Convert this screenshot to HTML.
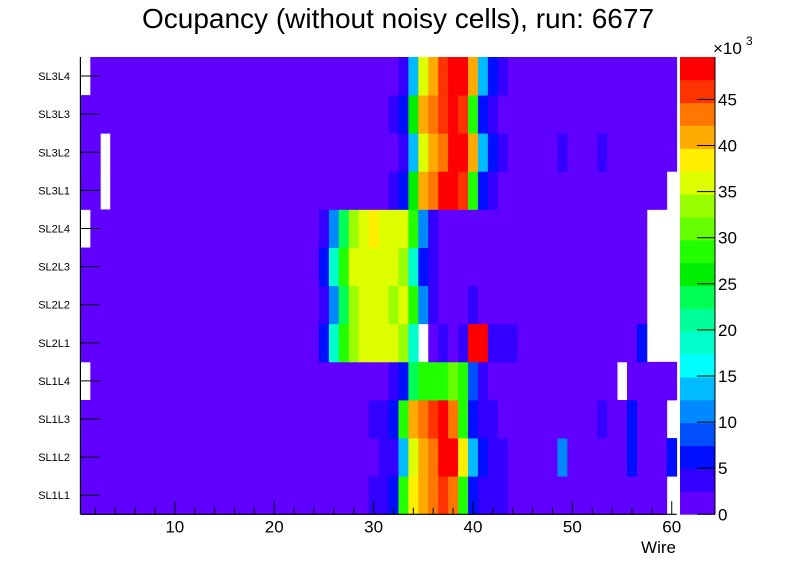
<!DOCTYPE html>
<html><head><meta charset="utf-8"><style>
html,body{margin:0;padding:0;background:#fff;}
svg{display:block;font-family:"Liberation Sans",sans-serif;}
</style></head><body>
<svg id="chart" width="796" height="572" viewBox="0 0 796 572">
<text x="398" y="28" text-anchor="middle" font-size="28">Ocupancy (without noisy cells), run: 6677</text>
<g id="cells"></g>
<g id="axes"></g>
<g id="cbar"></g>
</svg>
<script>
const layers = ["SL1L1","SL1L2","SL1L3","SL1L4","SL2L1","SL2L2","SL2L3","SL2L4","SL3L1","SL3L2","SL3L3","SL3L4"];
const xTicks = [10,20,30,40,50,60];
const zTicks = [0,5,10,15,20,25,30,35,40,45];
// occupancy in thousands, per layer, wires 1..60
const occSL1L1 = [1.2,1.2,1.2,1.2,1.2,1.2,1.2,1.2,1.2,1.2,1.2,1.2,1.2,1.2,1.2,1.2,1.2,1.2,1.2,1.2,1.2,1.2,1.2,1.2,1.2,1.2,1.2,1.2,1.2,3.7,3.7,6.2,28.5,38.4,40.9,43.4,45.9,43.4,28.5,6.2,3.7,3.7,3.7,1.2,1.2,1.2,1.2,1.2,1.2,1.2,1.2,1.2,1.2,1.2,1.2,1.2,1.2,1.2,1.2,0];
const occSL1L2 = [1.2,1.2,1.2,1.2,1.2,1.2,1.2,1.2,1.2,1.2,1.2,1.2,1.2,1.2,1.2,1.2,1.2,1.2,1.2,1.2,1.2,1.2,1.2,1.2,1.2,1.2,1.2,1.2,1.2,1.2,3.7,3.7,13.6,36.0,40.9,43.4,48.4,48.4,38.4,13.6,6.2,3.7,3.7,1.2,1.2,1.2,1.2,1.2,11.2,1.2,1.2,1.2,1.2,1.2,1.2,6.2,1.2,1.2,1.2,6.2];
const occSL1L3 = [1.2,1.2,1.2,1.2,1.2,1.2,1.2,1.2,1.2,1.2,1.2,1.2,1.2,1.2,1.2,1.2,1.2,1.2,1.2,1.2,1.2,1.2,1.2,1.2,1.2,1.2,1.2,1.2,1.2,3.7,3.7,6.2,28.5,40.9,43.4,45.9,48.4,43.4,28.5,6.2,3.7,3.7,1.2,1.2,1.2,1.2,1.2,1.2,1.2,1.2,1.2,1.2,3.7,1.2,1.2,6.2,1.2,1.2,1.2,0];
const occSL1L4 = [0,1.2,1.2,1.2,1.2,1.2,1.2,1.2,1.2,1.2,1.2,1.2,1.2,1.2,1.2,1.2,1.2,1.2,1.2,1.2,1.2,1.2,1.2,1.2,1.2,1.2,1.2,1.2,1.2,1.2,1.2,3.7,6.2,23.6,28.5,28.5,28.5,31.0,28.5,8.7,3.7,1.2,1.2,1.2,1.2,1.2,1.2,1.2,1.2,1.2,1.2,1.2,1.2,1.2,0,1.2,1.2,1.2,1.2,1.2];
const occSL2L1 = [1.2,1.2,1.2,1.2,1.2,1.2,1.2,1.2,1.2,1.2,1.2,1.2,1.2,1.2,1.2,1.2,1.2,1.2,1.2,1.2,1.2,1.2,1.2,1.2,6.2,18.6,28.5,33.5,36.0,36.0,36.0,36.0,33.5,18.6,0,1.2,3.7,1.2,3.7,48.4,48.4,3.7,3.7,3.7,1.2,1.2,1.2,1.2,1.2,1.2,1.2,1.2,1.2,1.2,1.2,1.2,6.2,0,0,0];
const occSL2L2 = [1.2,1.2,1.2,1.2,1.2,1.2,1.2,1.2,1.2,1.2,1.2,1.2,1.2,1.2,1.2,1.2,1.2,1.2,1.2,1.2,1.2,1.2,1.2,1.2,3.7,11.2,23.6,33.5,36.0,36.0,36.0,33.5,36.0,28.5,11.2,3.7,1.2,1.2,1.2,3.7,1.2,1.2,1.2,1.2,1.2,1.2,1.2,1.2,1.2,1.2,1.2,1.2,1.2,1.2,1.2,1.2,1.2,0,0,0];
const occSL2L3 = [1.2,1.2,1.2,1.2,1.2,1.2,1.2,1.2,1.2,1.2,1.2,1.2,1.2,1.2,1.2,1.2,1.2,1.2,1.2,1.2,1.2,1.2,1.2,1.2,6.2,18.6,28.5,36.0,36.0,36.0,36.0,36.0,33.5,18.6,6.2,3.7,1.2,1.2,1.2,1.2,1.2,1.2,1.2,1.2,1.2,1.2,1.2,1.2,1.2,1.2,1.2,1.2,1.2,1.2,1.2,1.2,1.2,0,0,0];
const occSL2L4 = [0,1.2,1.2,1.2,1.2,1.2,1.2,1.2,1.2,1.2,1.2,1.2,1.2,1.2,1.2,1.2,1.2,1.2,1.2,1.2,1.2,1.2,1.2,1.2,3.7,11.2,23.6,33.5,36.0,38.4,36.0,36.0,36.0,28.5,11.2,3.7,1.2,1.2,1.2,1.2,1.2,1.2,1.2,1.2,1.2,1.2,1.2,1.2,1.2,1.2,1.2,1.2,1.2,1.2,1.2,1.2,1.2,0,0,0];
const occSL3L1 = [1.2,1.2,0,1.2,1.2,1.2,1.2,1.2,1.2,1.2,1.2,1.2,1.2,1.2,1.2,1.2,1.2,1.2,1.2,1.2,1.2,1.2,1.2,1.2,1.2,1.2,1.2,1.2,1.2,1.2,1.2,3.7,6.2,26.0,40.9,43.4,48.4,48.4,45.9,28.5,6.2,3.7,1.2,1.2,1.2,1.2,1.2,1.2,1.2,1.2,1.2,1.2,1.2,1.2,1.2,1.2,1.2,1.2,1.2,0];
const occSL3L2 = [1.2,1.2,0,1.2,1.2,1.2,1.2,1.2,1.2,1.2,1.2,1.2,1.2,1.2,1.2,1.2,1.2,1.2,1.2,1.2,1.2,1.2,1.2,1.2,1.2,1.2,1.2,1.2,1.2,1.2,1.2,1.2,3.7,13.6,36.0,40.9,43.4,48.4,48.4,40.9,13.6,6.2,3.7,1.2,1.2,1.2,1.2,1.2,3.7,1.2,1.2,1.2,3.7,1.2,1.2,1.2,1.2,1.2,1.2,1.2];
const occSL3L3 = [1.2,1.2,1.2,1.2,1.2,1.2,1.2,1.2,1.2,1.2,1.2,1.2,1.2,1.2,1.2,1.2,1.2,1.2,1.2,1.2,1.2,1.2,1.2,1.2,1.2,1.2,1.2,1.2,1.2,1.2,1.2,3.7,6.2,26.0,40.9,43.4,45.9,48.4,45.9,28.5,6.2,3.7,1.2,1.2,1.2,1.2,1.2,1.2,1.2,1.2,1.2,1.2,1.2,1.2,1.2,1.2,1.2,1.2,1.2,1.2];
const occSL3L4 = [0,1.2,1.2,1.2,1.2,1.2,1.2,1.2,1.2,1.2,1.2,1.2,1.2,1.2,1.2,1.2,1.2,1.2,1.2,1.2,1.2,1.2,1.2,1.2,1.2,1.2,1.2,1.2,1.2,1.2,1.2,1.2,3.7,13.6,36.0,40.9,45.9,48.4,48.4,40.9,13.6,6.2,3.7,1.2,1.2,1.2,1.2,1.2,1.2,1.2,1.2,1.2,1.2,1.2,1.2,1.2,1.2,1.2,1.2,1.2];
const occupancy = [occSL1L1,occSL1L2,occSL1L3,occSL1L4,occSL2L1,occSL2L2,occSL2L3,occSL2L4,occSL3L1,occSL3L2,occSL3L3,occSL3L4];

const NS="http://www.w3.org/2000/svg";
const X0=80.4, X1=676.7, Y0=514.3, Y1=57, XMIN=0.5, XMAX=60.5, ZMAX=49.6;
const palette=["#6000ff","#3300ff","#0010ff","#0050ff","#0088ff","#00bbff","#00ffff","#00ffcc","#00ff99","#00ff55","#00ee00","#22ff00","#66ff00","#99ff00","#ddff00","#ffee00","#ffaa00","#ff7700","#ff3300","#ff0000"];
const xs=w=>X0+(w-XMIN)/(XMAX-XMIN)*(X1-X0);
const rowH=(Y0-Y1)/layers.length;
const ys=i=>Y0-(i+1)*rowH;
const zs=z=>Y0-z/ZMAX*(Y0-Y1);
const color=z=>palette[Math.min(palette.length-1,Math.floor(z/ZMAX*palette.length))];
function mk(tag,attrs,parent){const e=document.createElementNS(NS,tag);for(const k in attrs)e.setAttribute(k,attrs[k]);parent.appendChild(e);return e;}

const cells=document.getElementById('cells');
occupancy.forEach((row,i)=>{
  row.forEach((v,j)=>{
    if(v<=0)return;
    const w=j+1;
    const r=mk('rect',{x:xs(w-0.5),y:ys(i),width:xs(w+0.5)-xs(w-0.5)+0.4,height:rowH+0.4,fill:color(v)},cells);
    
    
  });
});

const ax=document.getElementById('axes');
let l=mk('line',{x1:X0,y1:Y1,x2:X0,y2:Y0,stroke:'#000','stroke-width':1.2},ax);


l=mk('line',{x1:X0,y1:Y0,x2:X1,y2:Y0,stroke:'#000','stroke-width':1.2},ax);


for(let w=2;w<=60;w+=2){
  const major=w%10===0;
  mk('line',{x1:xs(w),y1:Y0,x2:xs(w),y2:Y0-(major?13:6.5),stroke:'#000','stroke-width':1},ax);
}
xTicks.forEach(t=>{
  const tx=mk('text',{x:xs(t),y:Y0+18,'text-anchor':'middle','font-size':17},ax);
  tx.textContent=t;
  
  
});
const xt=mk('text',{x:676,y:553,'text-anchor':'end','font-size':17},ax);
xt.textContent='Wire';


layers.forEach((name,i)=>{
  const yc=ys(i)+rowH/2;
  mk('line',{x1:X0,y1:yc,x2:X0+19,y2:yc,stroke:'#000','stroke-width':1},ax);
  const t=mk('text',{x:70,y:yc+4,'text-anchor':'end','font-size':11},ax);
  t.textContent=name;
  
  
});

const cb=document.getElementById('cbar');
const CX0=680, CX1=715;
palette.forEach((c,k)=>{
  const zlo=k*ZMAX/palette.length, zhi=(k+1)*ZMAX/palette.length;
  const r=mk('rect',{x:CX0,y:zs(zhi),width:CX1-CX0,height:zs(zlo)-zs(zhi)+0.4,fill:c},cb);
  
  
});
mk('line',{x1:CX1,y1:Y1,x2:CX1,y2:Y0,stroke:'#000','stroke-width':1},cb);
zTicks.forEach(z=>{
  mk('line',{x1:CX1-18,y1:zs(z),x2:CX1,y2:zs(z),stroke:'#000','stroke-width':1},cb);
  const t=mk('text',{x:CX1+3,y:zs(z)+6,'font-size':17},cb);
  t.textContent=z;
  
  
});
const ex=mk('text',{x:713,y:54,'font-size':17},cb);
ex.textContent='×10';


const ex3=mk('text',{x:746,y:45,'font-size':12},cb);
ex3.textContent='3';


</script>
</body></html>
